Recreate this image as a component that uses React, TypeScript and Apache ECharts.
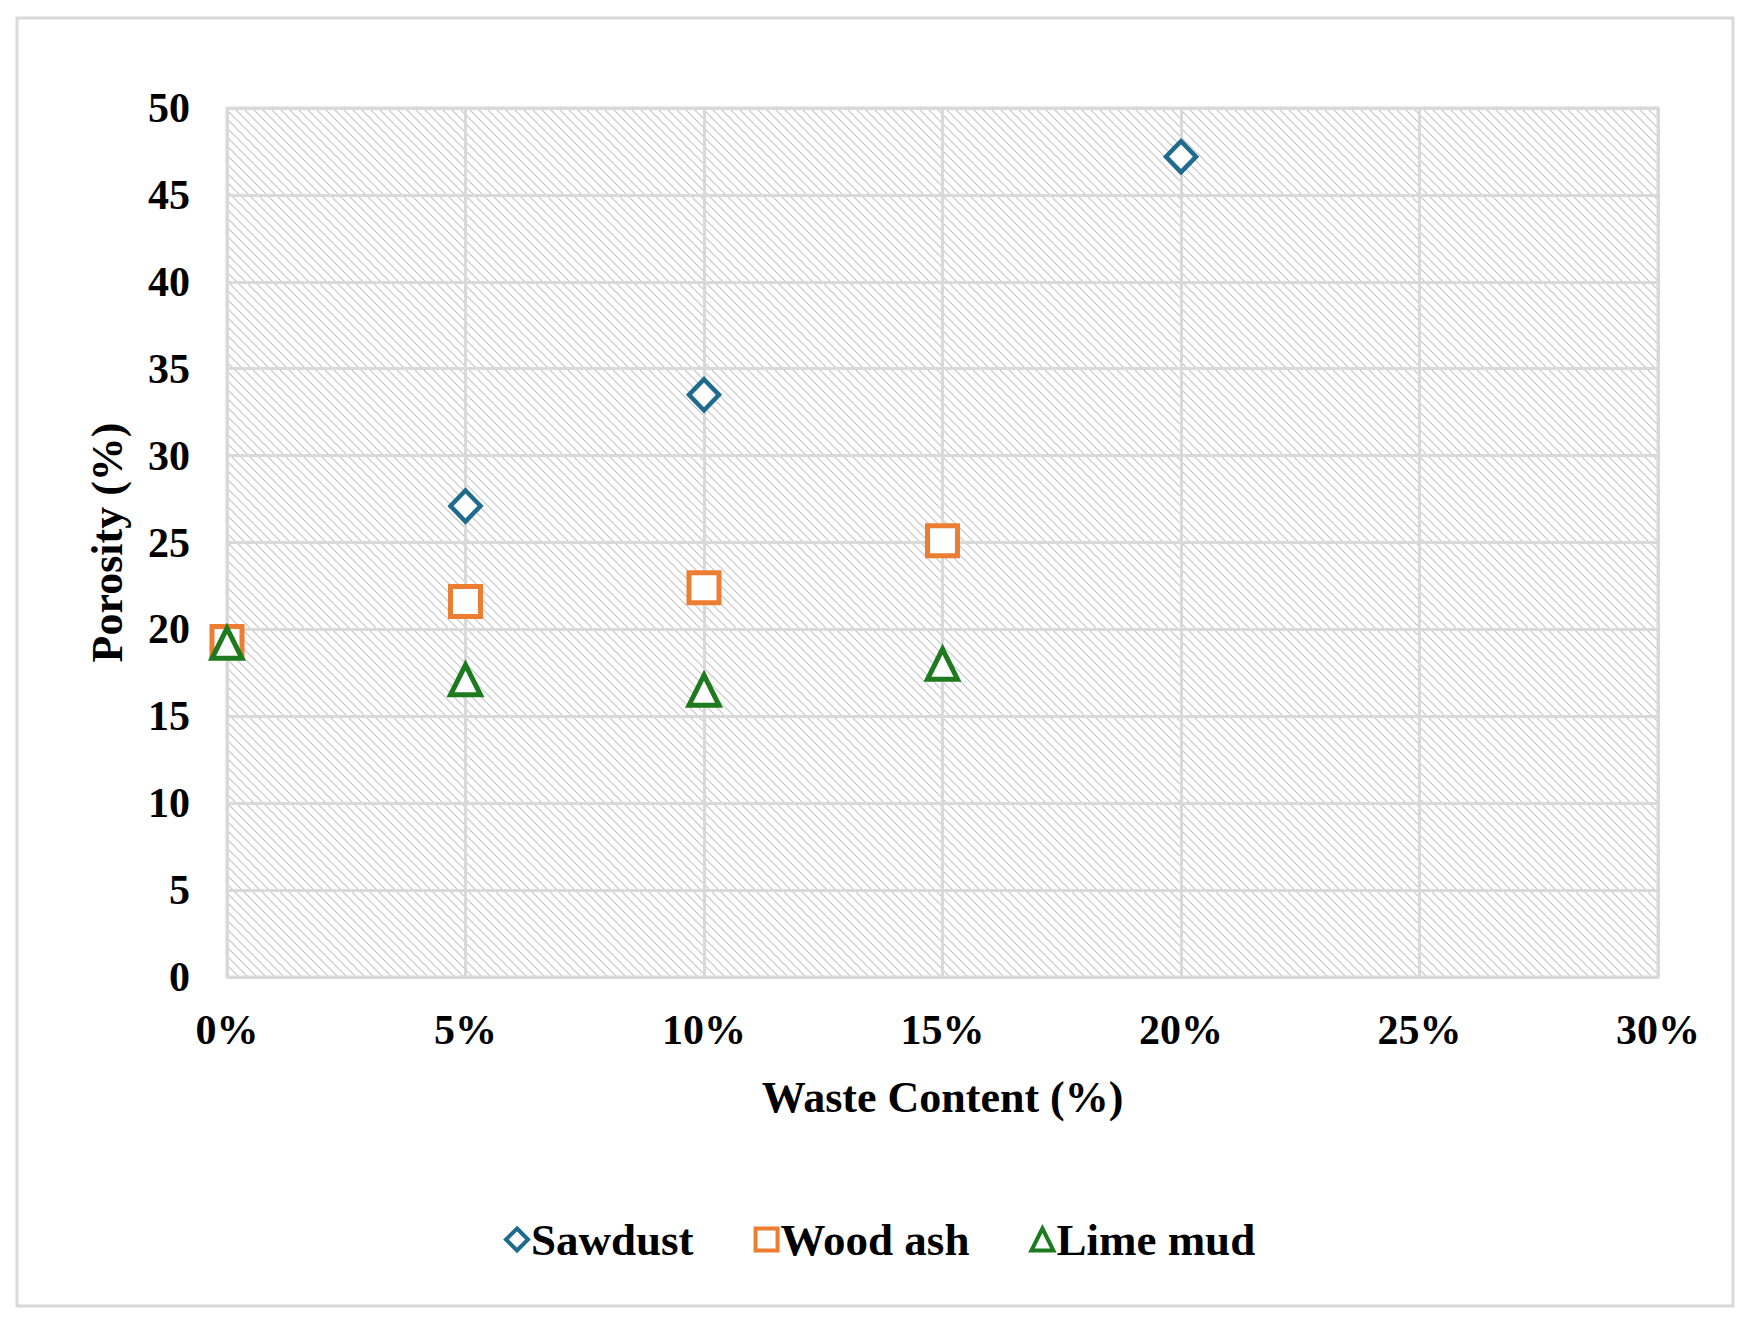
import * as echarts from "echarts";
import React, { useEffect, useRef } from "react";

const xTicks = [0, 5, 10, 15, 20, 25, 30];
const sawdustX = [5, 10, 20];
const sawdustY = [27.1, 33.5, 47.2];
const woodAshX = [0, 5, 10, 15];
const woodAshY = [19.3, 21.6, 22.4, 25.1];
const limeMudX = [0, 5, 10, 15];
const limeMudY = [19.2, 17.1, 16.5, 18.0];

const font = "'Liberation Serif', 'Times New Roman', serif";

const pairs = (xs: number[], ys: number[]) => xs.map((x, i) => [x, ys[i]]);

// light diagonal hatch for the plot area
const makeHatch = () => {
  const s = 9;
  const c = document.createElement("canvas");
  c.width = s;
  c.height = s;
  const ctx = c.getContext("2d")!;
  ctx.fillStyle = "#ffffff";
  ctx.fillRect(0, 0, s, s);
  ctx.strokeStyle = "#c4c4c4";
  ctx.lineWidth = 1.1;
  ctx.beginPath();
  ctx.moveTo(-1, -1);
  ctx.lineTo(s + 1, s + 1);
  ctx.moveTo(-1, s - 1);
  ctx.lineTo(1, s + 1);
  ctx.moveTo(s - 1, -1);
  ctx.lineTo(s + 1, 1);
  ctx.stroke();
  return c;
};

const App = () => {
  const ref = useRef<HTMLDivElement>(null);

  useEffect(() => {
    document.body.style.margin = "0";
    const option = {
      animation: false,
      backgroundColor: "#ffffff",
      graphic: [
        {
          type: "rect",
          shape: { x: 17, y: 18, width: 1716, height: 1288 },
          style: { fill: "none", stroke: "#d9d9d9", lineWidth: 3 },
          silent: true
        }
      ],
      grid: {
        left: 227,
        right: 1751 - 1658,
        top: 108,
        bottom: 1324 - 977,
        show: true,
        borderColor: "#d9d9d9",
        borderWidth: 3,
        backgroundColor: { image: makeHatch(), repeat: "repeat" }
      },
      legend: {
        left: 499,
        top: 1212,
        itemGap: 60,
        itemWidth: 22,
        itemHeight: 22,
        itemStyle: { borderWidth: 4, opacity: 1 },
        textStyle: { fontFamily: font, fontWeight: "bold", fontSize: 45, color: "#000", padding: [0, 0, 0, -2] },
        data: ["Sawdust", "Wood ash", "Lime mud"]
      },
      xAxis: {
        type: "value",
        min: 0,
        max: 30,
        interval: 5,
        name: "Waste Content (%)",
        nameLocation: "middle",
        nameGap: 98,
        nameTextStyle: { fontFamily: font, fontWeight: "bold", fontSize: 44, color: "#000" },
        axisLine: { show: false },
        axisTick: { show: false },
        axisLabel: {
          margin: 32,
          fontFamily: font,
          fontWeight: "bold",
          fontSize: 42,
          color: "#000",
          formatter: (v: number) => (xTicks.includes(v) ? v + "%" : "")
        },
        splitLine: { show: true, lineStyle: { color: "#d9d9d9", width: 3 } }
      },
      yAxis: {
        type: "value",
        min: 0,
        max: 50,
        interval: 5,
        name: "Porosity (%)",
        nameLocation: "middle",
        nameGap: 98,
        nameTextStyle: { fontFamily: font, fontWeight: "bold", fontSize: 44, color: "#000" },
        axisLine: { show: false },
        axisTick: { show: false },
        axisLabel: { margin: 37, fontFamily: font, fontWeight: "bold", fontSize: 42, color: "#000" },
        splitLine: { show: true, lineStyle: { color: "#d9d9d9", width: 3 } }
      },
      series: [
        {
          name: "Sawdust",
          type: "scatter",
          symbol: "diamond",
          symbolSize: [30, 31],
          itemStyle: { color: "#ffffff", borderColor: "#1f6b8e", borderWidth: 4.5, opacity: 1 },
          data: pairs(sawdustX, sawdustY)
        },
        {
          name: "Wood ash",
          type: "scatter",
          symbol: "rect",
          symbolSize: 30,
          itemStyle: { color: "#ffffff", borderColor: "#ed7d31", borderWidth: 5, opacity: 1 },
          data: pairs(woodAshX, woodAshY)
        },
        {
          name: "Lime mud",
          type: "scatter",
          symbol: "triangle",
          symbolSize: [30, 30],
          itemStyle: { color: "#ffffff", borderColor: "#1e7a1e", borderWidth: 5, opacity: 1 },
          data: pairs(limeMudX, limeMudY)
        }
      ]
    };
    const myChart = echarts.init(ref.current, null, { renderer: "svg" });
    myChart.setOption(option);
    return () => {
      myChart.dispose && myChart.dispose();
    };
  }, []);

  return <div ref={ref} style={{ width: 1751, height: 1324, margin: 0 }}></div>;
};

export default App;
